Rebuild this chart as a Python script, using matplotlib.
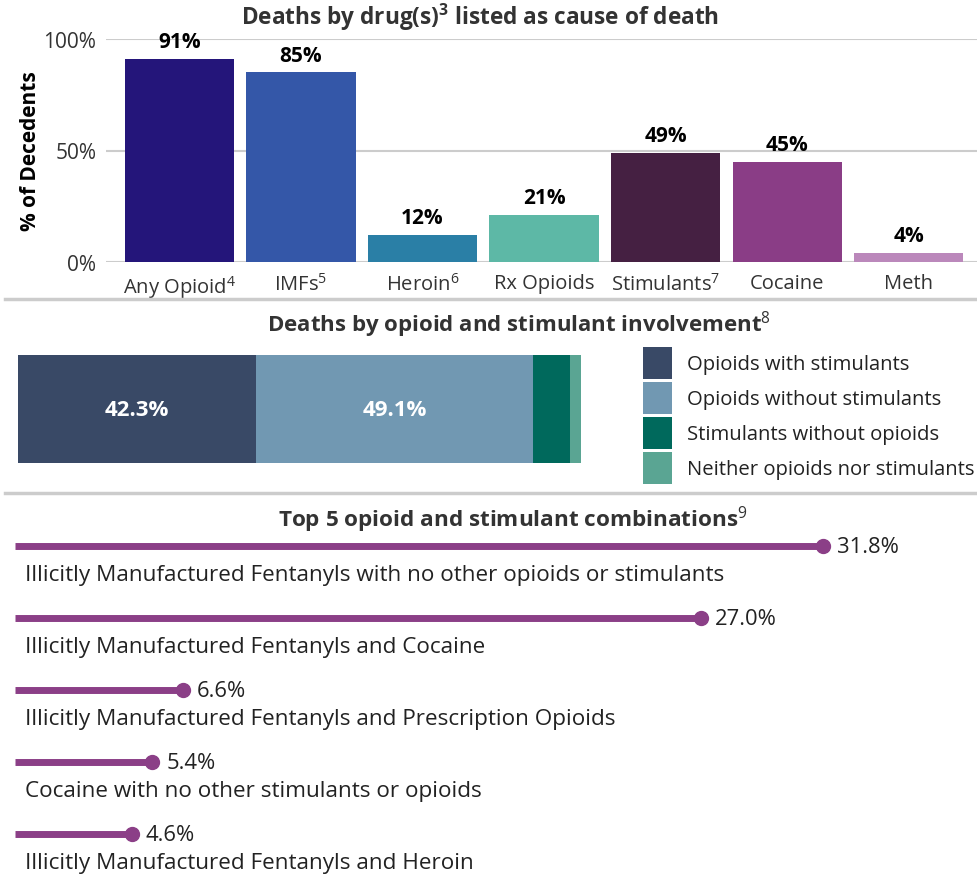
import numpy as np
import matplotlib
matplotlib.use("Agg")
import matplotlib.pyplot as plt
from matplotlib.lines import Line2D
from matplotlib.patches import Patch

plt.rcParams['font.family'] = ['Open Sans', 'DejaVu Sans']
plt.rcParams['mathtext.fontset'] = 'custom'
plt.rcParams['mathtext.rm'] = 'Open Sans'
plt.rcParams['mathtext.bf'] = 'Open Sans:bold'

# top chart: drugs listed as cause of death
drug_labels = ['Any Opioid$^{4}$', 'IMFs$^{5}$', 'Heroin$^{6}$', 'Rx Opioids',
               'Stimulants$^{7}$', 'Cocaine', 'Meth']
drug_pct = [91, 85, 12, 21, 49, 45, 4]
drug_colors = ['#24157a', '#3457a8', '#2a7fa6', '#5db8a6', '#452042', '#8a3d86', '#bb88bb']

# middle chart: opioid / stimulant involvement
inv_labels = ['Opioids with stimulants', 'Opioids without stimulants',
              'Stimulants without opioids', 'Neither opioids nor stimulants']
inv_pct = [42.3, 49.1, 6.7, 1.9]
inv_colors = ['#394966', '#7198b2', '#00695c', '#5aa593']

# bottom chart: top 5 combinations
combo_labels = ['Illicitly Manufactured Fentanyls with no other opioids or stimulants',
                'Illicitly Manufactured Fentanyls and Cocaine',
                'Illicitly Manufactured Fentanyls and Prescription Opioids',
                'Cocaine with no other stimulants or opioids',
                'Illicitly Manufactured Fentanyls and Heroin']
combo_pct = [31.8, 27.0, 6.6, 5.4, 4.6]

W, H = 978, 879
fig = plt.figure(figsize=(W / 100, H / 100), dpi=100)

def box(x0, y0, x1, y1):
    # pixel box (top-left origin) -> figure fraction
    return [x0 / W, 1 - y1 / H, (x1 - x0) / W, (y1 - y0) / H]

txt = '#222222'
grey = '#cccccc'

# ---- top ----
ax1 = fig.add_axes(box(106, 40, 978, 263))
x = np.arange(len(drug_pct))
bars = ax1.bar(x, drug_pct, width=0.9, color=drug_colors)
for b, v in zip(bars, drug_pct):
    ax1.annotate(f'{v}%', (b.get_x() + b.get_width() / 2, v), xytext=(0, 5),
                 textcoords='offset points', ha='center', va='bottom',
                 fontsize=15, fontweight='bold', color='black')
ax1.set_xlim(-0.605, 6.57)
ax1.set_ylim(0, 100)
ax1.set_yticks([0, 50, 100])
ax1.set_yticklabels(['0%', '50%', '100%'])
ax1.set_xticks(x)
ax1.set_xticklabels(drug_labels)
ax1.tick_params(length=0, labelsize=14.5, labelcolor='#333333')
ax1.tick_params(axis='y', pad=7, labelsize=15)
ax1.tick_params(axis='x', pad=8)
ax1.grid(axis='y', color=grey, lw=1.5)
ax1.set_axisbelow(True)
for s in ax1.spines.values():
    s.set_visible(False)
ax1.set_ylabel('% of Decedents', fontsize=15, fontweight='bold', color='black', labelpad=2)
fig.text(480 / W, 1 - 17 / H, r'Deaths by drug(s)$^{\mathbf{3}}$ listed as cause of death',
         ha='center', va='center', fontsize=16.3, fontweight='bold', color='#333333')

# separators
for yy in [300, 494]:
    fig.add_artist(Line2D([5 / W, 1], [1 - yy / H] * 2, transform=fig.transFigure,
                          color=grey, lw=2.5))

# ---- middle ----
ax2 = fig.add_axes(box(18, 356, 581, 464))
left = 0
for v, c in zip(inv_pct, inv_colors):
    ax2.barh(0, v, left=left, height=1, color=c)
    if v > 10:
        ax2.text(left + v / 2, 0, f'{v:.1f}%', ha='center', va='center',
                 fontsize=16, fontweight='bold', color='white')
    left += v
ax2.set_xlim(0, sum(inv_pct))
ax2.set_ylim(-0.5, 0.5)
ax2.axis('off')
fig.text(519 / W, 1 - 325 / H, r'Deaths by opioid and stimulant involvement$^{8}$',
         ha='center', va='center', fontsize=16, fontweight='bold', color='#333333')
handles = [Patch(facecolor=c) for c in inv_colors]
fig.legend(handles, inv_labels, loc='upper left', bbox_to_anchor=(643 / W, 1 - 348 / H),
           frameon=False, fontsize=14.6, handlelength=1.43, handleheight=2.05,
           handletextpad=0.74, labelspacing=0.15, borderpad=0, borderaxespad=0,
           labelcolor=txt)

# ---- bottom ----
ax3 = fig.add_axes(box(15, 500, 978, 879))
purple = '#8b3f87'
rows = np.arange(len(combo_pct))
ax3.hlines(rows, 0, combo_pct, color=purple, lw=5)
ax3.plot(combo_pct, rows, 'o', color=purple, ms=10)
for r, v, lab in zip(rows, combo_pct, combo_labels):
    ax3.annotate(f'{v:.1f}%', (v, r), xytext=(10, 0), textcoords='offset points',
                 ha='left', va='center', fontsize=15.8, color=txt)
    ax3.text(0.4, r + 0.39, lab, ha='left', va='center', fontsize=16.2, color=txt)
ax3.set_xlim(0, 37.9)
ax3.set_ylim(4.611, -0.653)
ax3.axis('off')
fig.text(513 / W, 1 - 520 / H, r'Top 5 opioid and stimulant combinations$^{9}$',
         ha='center', va='center', fontsize=16.2, fontweight='bold', color='#333333')

fig.savefig('out.png', dpi=100)
